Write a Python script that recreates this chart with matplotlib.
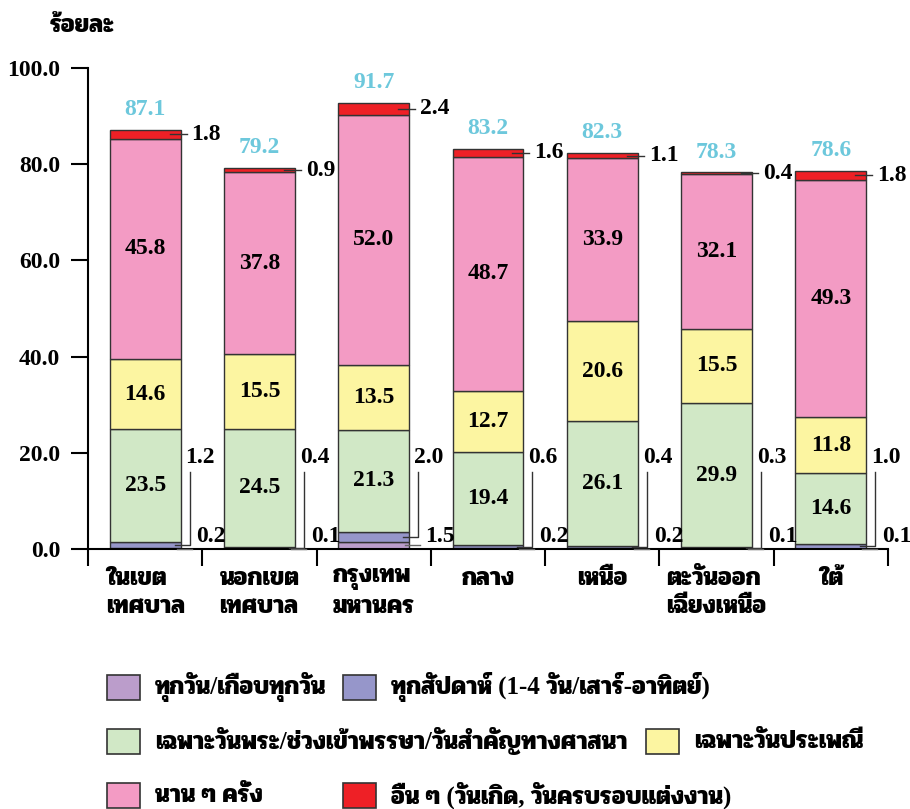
import numpy as np
import matplotlib
matplotlib.use('Agg')
import matplotlib.pyplot as plt
from matplotlib.patches import Rectangle

# ข้อมูล (ร้อยละ)
categories = ['ในเขต\nเทศบาล', 'นอกเขต\nเทศบาล', 'กรุงเทพ\nมหานคร', 'กลาง', 'เหนือ',
              'ตะวันออก\nเฉียงเหนือ', 'ใต้']
daily = [0.2, 0.1, 1.5, 0.2, 0.2, 0.1, 0.1]
weekly = [1.2, 0.4, 2.0, 0.6, 0.4, 0.3, 1.0]
holy_day = [23.5, 24.5, 21.3, 19.4, 26.1, 29.9, 14.6]
tradition = [14.6, 15.5, 13.5, 12.7, 20.6, 15.5, 11.8]
seldom = [45.8, 37.8, 52.0, 48.7, 33.9, 32.1, 49.3]
other = [1.8, 0.9, 2.4, 1.6, 1.1, 0.4, 1.8]
totals = [87.1, 79.2, 91.7, 83.2, 82.3, 78.3, 78.6]

series_names = ['ทุกวัน/เกือบทุกวัน', 'ทุกสัปดาห์ (1-4 วัน/เสาร์-อาทิตย์)',
                'เฉพาะวันพระ/ช่วงเข้าพรรษา/วันสำคัญทางศาสนา', 'เฉพาะวันประเพณี',
                'นาน ๆ ครั้ง', 'อื่น ๆ (วันเกิด, วันครบรอบแต่งงาน)']
colors = ['#BB9DCB', '#9696CA', '#D1E8C6', '#FCF5A1', '#F39BC4', '#EE2026']

FAM = ['Liberation Serif', 'Pridi']
NUM_SIZE = 17
THAI_SIZE = 18

W, H = 910, 809
fig = plt.figure(figsize=(W / 100, H / 100), dpi=100)
ax = fig.add_axes([88 / W, 1 - 549 / H, 800 / W, 481 / H])

x = np.arange(len(categories))
bw = 0.62
series = [daily, weekly, holy_day, tradition, seldom, other]
bottom = np.zeros(len(x))
bottoms = []
for vals, c in zip(series, colors):
    vals = np.array(vals)
    ax.bar(x, vals, bw, bottom=bottom, color=c, edgecolor='#333333', linewidth=1.0, zorder=2)
    bottoms.append(bottom.copy())
    bottom = bottom + vals

px = 1 / 114.3  # หนึ่งพิกเซลในหน่วยแกน x
tkw = dict(family=FAM, weight='bold', fontsize=NUM_SIZE, color='black')

for i in range(len(x)):
    right = x[i] + bw / 2
    # ค่าในแท่ง
    for k in (2, 3, 4):
        ax.text(x[i], bottoms[k][i] + series[k][i] / 2, f'{series[k][i]:.1f}',
                ha='center', va='center', zorder=4, **tkw)
    # อื่น ๆ
    ym = bottoms[5][i] + other[i] / 2
    ax.plot([right - 11 * px, right + 6 * px], [ym, ym], color='#333333', lw=1, zorder=4)
    ax.text(right + 11 * px, ym, f'{other[i]:.1f}', ha='left', va='center', **tkw)
    # รวม
    ax.annotate(f'{totals[i]:.1f}', (x[i], bottom[i]), xytext=(0, 7), textcoords='offset points',
                ha='center', va='bottom', family=FAM, weight='bold', fontsize=NUM_SIZE,
                color='#6DC8DC')
    # ทุกสัปดาห์ (เส้นหักขึ้นไป)
    yw = bottoms[1][i] + weekly[i] / 2
    ax.plot([right - 6 * px, right + 9 * px, right + 9 * px], [yw, yw, 16.0],
            color='#333333', lw=1, zorder=4, clip_on=False)
    ax.text(right + 5 * px, 19.0, f'{weekly[i]:.1f}', ha='left', va='center', **tkw)
    # ทุกวัน
    yd = bottoms[0][i] + daily[i] / 2
    ax.plot([right - 4 * px, right + 11 * px], [yd, yd], color='#666666', lw=1, zorder=4,
            clip_on=False)
    ax.text(right + 16 * px, 2.5, f'{daily[i]:.1f}', ha='left', va='center', **tkw)

ax.set_xlim(-0.5, len(x) - 0.5)
ax.set_ylim(0, 100)
ax.set_yticks(np.arange(0, 101, 20))
ax.set_yticklabels([f'{v:.1f}' for v in np.arange(0, 101, 20)])
ax.set_xticks(x)
ax.set_xticklabels(categories, multialignment='left', linespacing=1.25)
ax.set_xticks(np.arange(-0.5, len(x), 1), minor=True)
ax.tick_params(axis='x', which='major', length=0, pad=13)
ax.tick_params(axis='x', which='minor', length=12, width=1.5, direction='out')
ax.tick_params(axis='y', length=12, width=1.5, direction='out', pad=8)
for lab in ax.get_yticklabels():
    lab.set_family(FAM)
    lab.set_weight('bold')
    lab.set_fontsize(NUM_SIZE)
for lab in ax.get_xticklabels():
    lab.set_family(FAM)
    lab.set_weight('bold')
    lab.set_fontsize(THAI_SIZE)
for s in ('top', 'right'):
    ax.spines[s].set_visible(False)
for s in ('left', 'bottom'):
    ax.spines[s].set_linewidth(1.5)

fig.text(82 / W, 1 - 25 / H, 'ร้อยละ', ha='center', va='center', family=FAM,
         weight='bold', fontsize=THAI_SIZE)

# คำอธิบายสัญลักษณ์
legend_pos = [(107, 687), (343, 687), (107, 741), (646, 741), (107, 795), (343, 795)]
for (lx, ly), name, c in zip(legend_pos, series_names, colors):
    fig.add_artist(Rectangle((lx / W, 1 - (ly + 12.5) / H), 33 / W, 25 / H,
                             transform=fig.transFigure, facecolor=c, edgecolor='#333333',
                             linewidth=1.2))
    fig.text((lx + 48) / W, 1 - ly / H, name, ha='left', va='center', family=FAM,
             weight='bold', fontsize=THAI_SIZE)

fig.savefig('out.png', dpi=100)
